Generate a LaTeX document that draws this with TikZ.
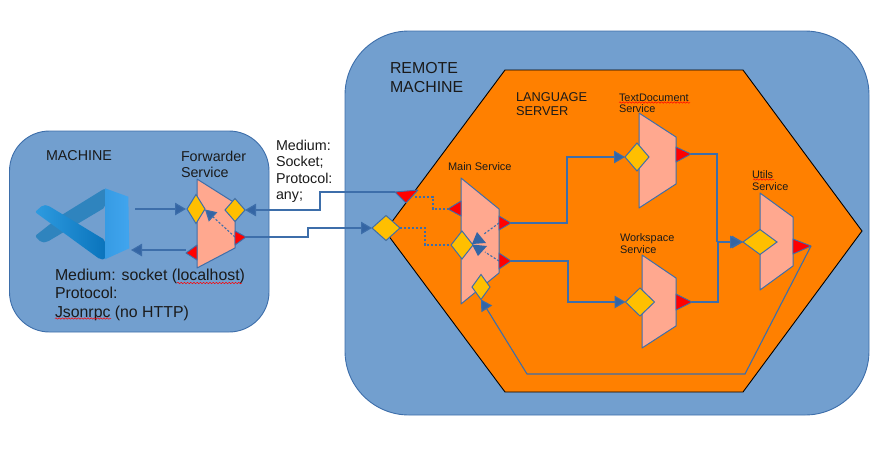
\documentclass[tikz,border=0pt]{standalone}
\usepackage{fontspec}
\setmainfont{Liberation Sans}
\usetikzlibrary{arrows.meta,shapes.geometric,decorations.pathmorphing}
\definecolor{boxblue}{HTML}{729FCF}
\definecolor{edgeblue}{HTML}{3465A4}
\definecolor{hexorange}{HTML}{FF8000}
\definecolor{muxfill}{HTML}{FFA88F}
\definecolor{portgold}{HTML}{FFBF00}
\definecolor{inkdark}{HTML}{1A1A1A}
\definecolor{vsa}{HTML}{41A5EE}
\definecolor{vsb}{HTML}{2E9BE0}
\definecolor{vsc}{HTML}{0A74BC}
\definecolor{vsd}{HTML}{2F84BE}
\tikzset{
  x=1pt,y=-1pt,
  region/.style={draw=edgeblue!85!boxblue,fill=boxblue,line width=0.9pt},
  hexa/.style={draw=black,fill=hexorange,line width=0.9pt},
  mux/.style={draw=edgeblue!85!boxblue,fill=muxfill,line width=1pt,line join=round},
  port/.style={shape=diamond,draw=edgeblue!85!boxblue,fill=portgold,line width=1pt,inner sep=0pt,outer sep=0pt},
  outtri/.style={draw=edgeblue!85!boxblue,fill=red,line width=0.9pt,line join=round},
  conn/.style={draw=edgeblue!85!boxblue,line width=1.1pt},
  dotconn/.style={conn,dash pattern=on 2.2pt off 1.8pt},
  head/.style={-{Triangle[length=11pt,width=12.5pt,fill=edgeblue]}},
  lab/.style={anchor=base west,inner sep=0pt,outer sep=0pt,text=inkdark,align=left},
  spell/.style={draw=red,line width=0.5pt,decorate,decoration={snake,amplitude=0.7pt,segment length=3.2pt}},
}
\newcommand{\lf}[1]{\fontsize{#1}{#1}\selectfont}
\begin{document}
\begin{tikzpicture}
\useasboundingbox (0,0) rectangle (873,459);
% regions
\draw[region,rounded corners=40pt] (9.5,131) rectangle (269,332);
\draw[region,rounded corners=64pt] (345,31) rectangle (869,415);
\draw[hexa] (505,70) -- (743,70) -- (862,231) -- (743,392) -- (505,392) -- (385,231) -- cycle;
% VS Code logo
\fill[vsd,rounded corners=2pt] (105,188.3) -- (105,207.5) -- (47,242) -- (41.5,242.5) -- (35,236) -- (61.7,215) -- cycle;
\shade[left color=vsb,right color=vsc,rounded corners=2pt] (35,212) -- (43,205) -- (48,205.5) -- (105,240) -- (105,259.3) -- (100,259.3) -- cycle;
\shade[left color=vsa!80!vsc,right color=vsa] (105,188.3) -- (128.3,196.7) -- (129.3,248.3) -- (105,259.3) -- cycle;
% multiplexer bodies
\draw[mux] (197,179) -- (235,203) -- (235,248) -- (197,268) -- cycle;
\draw[mux] (461,178) -- (499,209) -- (499,273) -- (461,304) -- cycle;
\draw[mux] (639,113) -- (676,137) -- (676,184) -- (639,208) -- cycle;
\draw[mux] (642,255) -- (676,278) -- (676,326) -- (642,348) -- cycle;
\draw[mux] (760,193) -- (793,217) -- (793,266) -- (760,290) -- cycle;
% named free ends
\coordinate (fbot) at (186,250);
\coordinate (fout) at (246,237);
\coordinate (rtop) at (395,192);
\coordinate (mtl) at (448,209);
\coordinate (mrt) at (511,223);
\coordinate (mrb) at (511,261);
\coordinate (tdo) at (691,154);
\coordinate (wso) at (692,302);
\coordinate (uo) at (811,246);
\coordinate (logoin) at (135,209);
\coordinate (logoout) at (131,250);
% ports
\node[port,minimum width=18pt,minimum height=29pt] (fl) at (196,209) {};
\node[port,minimum width=20pt,minimum height=23pt] (fr) at (235,210) {};
\node[port,minimum width=28pt,minimum height=25pt] (rl) at (386,228) {};
\node[port,minimum width=22pt,minimum height=28pt] (ml) at (462,245) {};
\node[port,minimum width=18pt,minimum height=25pt] (mb) at (481,287) {};
\node[port,minimum width=24pt,minimum height=28pt] (td) at (637,157) {};
\node[port,minimum width=29pt,minimum height=28pt] (ws) at (640,302) {};
\node[port,minimum width=34pt,minimum height=25pt] (ut) at (760,242) {};
% connectors
\draw[conn,head] (logoin) -- ([xshift=-1pt]fl.west);
\draw[conn,head] (fbot) -- (logoout);
\draw[conn,head] (rtop) -- (320,192) -- (320,210) -- (fr.east);
\draw[conn,head] (fout) -- (308,237) -- (308,228) -- (rl.west);
\draw[dotconn] (rtop) ++(20,5) -- (433,197) -- (433,209) -- (mtl);
\draw[dotconn] (rl.east) -- (425,228) -- (425,245) -- (ml.west);
\draw[conn,head] (mrt) -- (567,223) -- (567,157) -- (td.west);
\draw[conn,head] (mrb) -- (568,261) -- (568,302) -- (ws.west);
\draw[conn] (tdo) -- (717,154) -- (717,242);
\draw[conn,head] (wso) -- (718,302) -- (718,242) -- (ut.west);
\draw[conn,-{Triangle[length=13pt,width=12.5pt,fill=edgeblue]}] (717,242) -- (ut.west);
\draw[conn,head] (uo) -- (745,374) -- (527,374) -- (mb.south);
\draw[dotconn,head] (fout) ++(-11,0) -- (205,209.5);
\draw[dotconn] (499,223) -- (484,234);
\draw[dotconn] (499,261) -- (485,252);
\fill[edgeblue] (477,232) -- (472,244) -- (486,243) -- cycle;
\fill[edgeblue] (472,244.5) -- (487,246) -- (478,256) -- cycle;
% red output triangles
\draw[outtri] (197,245) -- (186,253) -- (197,260) -- cycle;
\draw[outtri] (235,231) -- (246,237) -- (235,245) -- cycle;
\draw[outtri] (395,192) -- (418,190) -- (406,203) -- cycle;
\draw[outtri] (461,201) -- (448,209) -- (461,216) -- cycle;
\draw[outtri] (499,216) -- (511,223) -- (499,230) -- cycle;
\draw[outtri] (499,253) -- (511,261) -- (499,269) -- cycle;
\draw[outtri] (676,147) -- (691,154) -- (676,162) -- cycle;
\draw[outtri] (676,294) -- (692,302) -- (676,310) -- cycle;
\draw[outtri] (793,239) -- (811,246) -- (793,254) -- cycle;
% labels
\node[lab,font=\lf{14.3}] (tmachine) at (46,160) {MACHINE};
\node[lab,font=\lf{14.3}] (tfwd1) at (181,161) {Forwarder};
\node[lab,font=\lf{14.3}] (tfwd2) at (181,177) {Service};
\node[lab,font=\lf{15.85}] (tm1) at (55,280) {Medium: socket (localhost)};
\node[lab,font=\lf{15.85}] (tm2) at (55,298) {Protocol:};
\node[lab,font=\lf{15.85}] (tm3) at (55,317) {Jsonrpc (no HTTP)};
\node[lab,font=\lf{14.3}] (ts1) at (276,150) {Medium:};
\node[lab,font=\lf{14.3}] (ts2) at (276,166) {Socket;};
\node[lab,font=\lf{14.3}] (ts3) at (276,183) {Protocol:};
\node[lab,font=\lf{14.3}] (ts4) at (276,199) {any;};
\node[lab,font=\lf{15.9}] (tr1) at (390,73) {REMOTE};
\node[lab,font=\lf{15.9}] (tr2) at (390,92) {MACHINE};
\node[lab,font=\lf{12.8}] (tl1) at (516,101) {LANGUAGE};
\node[lab,font=\lf{12.8}] (tl2) at (516,115) {SERVER};
\node[lab,font=\lf{11}] (tmain) at (448,170) {Main Service};
\node[lab,font=\lf{10.9}] (ttd1) at (619,101) {TextDocument};
\node[lab,font=\lf{10.9}] (ttd2) at (619,112) {Service};
\node[lab,font=\lf{10.9}] (tws1) at (620,241) {Workspace};
\node[lab,font=\lf{10.9}] (tws2) at (620,253) {Service};
\node[lab,font=\lf{10.9}] (tu1) at (752,178) {Utils};
\node[lab,font=\lf{10.9}] (tu2) at (752,190) {Service};
% spell-check underlines
\draw[spell] (177,283) -- (242,283);
\draw[spell] (55,318.5) -- (111,318.5);
\draw[spell] (619,102.5) -- (690,102.5);
\draw[spell] (753,179.5) -- (774,179.5);
\end{tikzpicture}
\end{document}
